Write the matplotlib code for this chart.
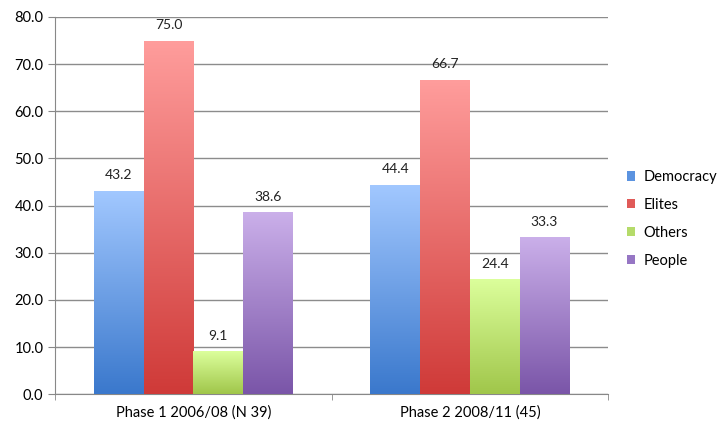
import numpy as np
import matplotlib.pyplot as plt
from matplotlib.colors import LinearSegmentedColormap

plt.rcParams['font.family'] = ['Lato', 'DejaVu Sans']

# Data
phases = ['Phase 1 2006/08 (N 39)', 'Phase 2 2008/11 (45)']
series = ['Democracy', 'Elites', 'Others', 'People']
democracy = [43.2, 44.4]
elites = [75.0, 66.7]
others = [9.1, 24.4]
people = [38.6, 33.3]
values = [democracy, elites, others, people]

# top / bottom colours of each gradient
top_colors = ['#a2c8ff', '#ff9d9c', '#dcff9c', '#cbb0ea']
bottom_colors = ['#3a78cc', '#cf3a38', '#a0c64a', '#7a55a8']

fig, ax = plt.subplots(figsize=(7.17, 4.24), dpi=100)
fig.subplots_adjust(left=0.077, right=0.848, top=0.96, bottom=0.07)

x = np.arange(len(phases))
width = 0.18
grad = np.linspace(1, 0, 256).reshape(-1, 1)

for i, name in enumerate(series):
    pos = x + (i - 1.5) * width
    bars = ax.bar(pos, values[i], width, color=bottom_colors[i], label=name,
                  zorder=2, linewidth=0)
    cmap = LinearSegmentedColormap.from_list(name, [bottom_colors[i], top_colors[i]])
    for b, v in zip(bars, values[i]):
        bx, by = b.get_x(), b.get_y()
        im = ax.imshow(grad, cmap=cmap, aspect='auto', zorder=3,
                       extent=[bx, bx + b.get_width(), by, by + b.get_height()],
                       vmin=0, vmax=1)
        im.set_clip_path(b)
        ax.text(b.get_x() + b.get_width() / 2, v + 2.0, f'{v:.1f}',
                ha='center', va='bottom', fontsize=10, color='#222222', zorder=4)

ax.set_xlim(-0.5, 1.5)
ax.set_ylim(0, 80)
ax.set_yticks(np.arange(0, 81, 10))
ax.set_yticklabels([f'{t:.1f}' for t in np.arange(0, 81, 10)], fontsize=10.5)
ax.set_xticks(x)
ax.set_xticklabels(phases, fontsize=10.5)
ax.set_xticks([-0.5, 0.5, 1.5], minor=True)
ax.tick_params(axis='x', which='major', length=0, pad=8)
ax.tick_params(axis='x', which='minor', length=4, color='#888888')
ax.tick_params(axis='y', length=5, color='#888888')

ax.grid(axis='y', color='#8c8c8c', linewidth=1, zorder=0)
ax.set_axisbelow(True)
for s in ['top', 'right']:
    ax.spines[s].set_visible(False)
ax.spines['left'].set_color('#888888')
ax.spines['bottom'].set_color('#888888')

handles, labels = ax.get_legend_handles_labels()
leg = ax.legend(handles, labels, loc='center left', bbox_to_anchor=(1.011, 0.465),
                frameon=False, fontsize=10.5, handlelength=0.55, handleheight=0.6,
                labelspacing=0.95, handletextpad=0.55)
for h, c in zip(leg.legend_handles, ['#5b93e0', '#e05a58', '#b5db6a', '#9676c4']):
    h.set_color(c)

plt.savefig('out.png', dpi=100)
